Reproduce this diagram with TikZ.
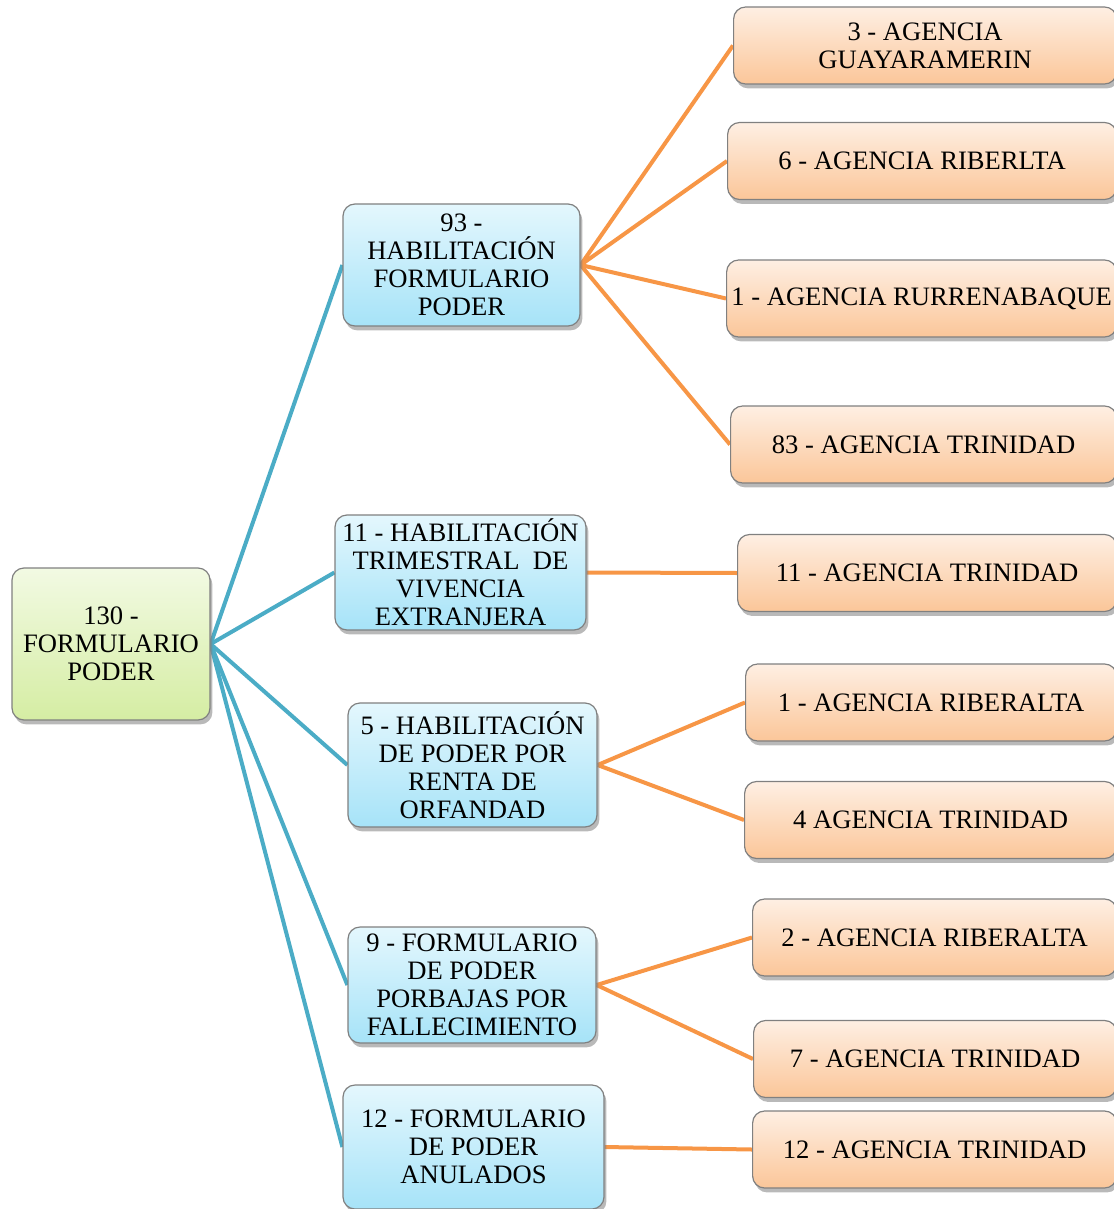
\documentclass[tikz,border=0pt]{standalone}
\usepackage{fontspec}
\setmainfont{Liberation Serif}
\usetikzlibrary{shadows,backgrounds}

\definecolor{rootTop}{HTML}{F2FAE3}
\definecolor{rootBot}{HTML}{D5EDA3}
\definecolor{midTop}{HTML}{E4F7FD}
\definecolor{midBot}{HTML}{A6E3F8}
\definecolor{leafTop}{HTML}{FEEFE3}
\definecolor{leafBot}{HTML}{FBC699}
\definecolor{linkblue}{HTML}{4BACC6}
\definecolor{linkorange}{HTML}{F79646}

\begin{document}
\begin{tikzpicture}[x=0.5pt,y=-0.5pt,
      every node/.style={align=center,inner sep=0pt,font=\fontsize{13.3}{14}\selectfont},
      box/.style={draw=black!50,line width=0.6pt,rounded corners=6pt,
        drop shadow={shadow xshift=1.2pt,shadow yshift=-2.2pt,opacity=0.55}},
      rootbox/.style={box,top color=rootTop,bottom color=rootBot},
      midbox/.style={box,top color=midTop,bottom color=midBot},
      leafbox/.style={box,top color=leafTop,bottom color=leafBot,anchor=west,minimum height=38.5pt},
      bluelink/.style={draw=linkblue,line width=2pt},
      orangelink/.style={draw=linkorange,line width=2pt}]
  \useasboundingbox (0,0) rectangle (1113,1209);

  % root
  \node[rootbox,minimum width=99pt,minimum height=76pt] (poder) at (111,644) {130 -\\FORMULARIO\\PODER};

  % second level
  \node[midbox,minimum width=118.5pt,minimum height=61pt] (habForm) at (461.5,265) {93 -\\HABILITACIÓN\\FORMULARIO\\PODER};
  \node[midbox,minimum width=125.5pt,minimum height=57.5pt] (habTrim) at (460.5,572.5) {11 - HABILITACIÓN\\TRIMESTRAL\ \ DE\\VIVENCIA\\EXTRANJERA};
  \node[midbox,minimum width=124.5pt,minimum height=62pt] (habRenta) at (472.5,765) {5 - HABILITACIÓN\\DE PODER POR\\RENTA DE\\ORFANDAD};
  \node[midbox,minimum width=124pt,minimum height=58pt] (formBajas) at (472,985) {9 - FORMULARIO\\DE PODER\\PORBAJAS POR\\FALLECIMIENTO};
  \node[midbox,minimum width=130.5pt,minimum height=62pt] (formAnul) at (473.5,1147) {12 - FORMULARIO\\DE PODER\\ANULADOS};

  % agencies
  \node[leafbox,minimum width=191.5pt] (guaya) at (733,45.5) {3 - AGENCIA\\GUAYARAMERIN};
  \node[leafbox,minimum width=194.5pt] (riberA) at (727,161) {6 - AGENCIA RIBERLTA};
  \node[leafbox,minimum width=195pt] (rurre) at (726,298.5) {1 - AGENCIA RURRENABAQUE};
  \node[leafbox,minimum width=193pt] (triniA) at (730,444.5) {83 - AGENCIA TRINIDAD};
  \node[leafbox,minimum width=189.5pt] (triniB) at (737,573) {11 - AGENCIA TRINIDAD};
  \node[leafbox,minimum width=185.5pt] (riberB) at (745,702.5) {1 - AGENCIA RIBERALTA};
  \node[leafbox,minimum width=186pt] (triniC) at (744,820) {4 AGENCIA TRINIDAD};
  \node[leafbox,minimum width=182pt] (riberC) at (752,937.5) {2 - AGENCIA RIBERALTA};
  \node[leafbox,minimum width=181.5pt] (triniD) at (753,1059) {7 - AGENCIA TRINIDAD};
  \node[leafbox,minimum width=182pt] (triniE) at (752,1149.5) {12 - AGENCIA TRINIDAD};

  % connectors behind the boxes
  \begin{scope}[on background layer]
    \path[bluelink] (poder.east) edge (habForm.west) edge (habTrim.west) edge (habRenta.west)
      edge (formBajas.west) edge (formAnul.west);
    \path[orangelink] (habForm.east) edge (guaya.west) edge (riberA.west) edge (rurre.west) edge (triniA.west);
    \path[orangelink] (habTrim.east) edge (triniB.west);
    \path[orangelink] (habRenta.east) edge (riberB.west) edge (triniC.west);
    \path[orangelink] (formBajas.east) edge (riberC.west) edge (triniD.west);
    \path[orangelink] (formAnul.east) edge (triniE.west);
  \end{scope}
\end{tikzpicture}
\end{document}
